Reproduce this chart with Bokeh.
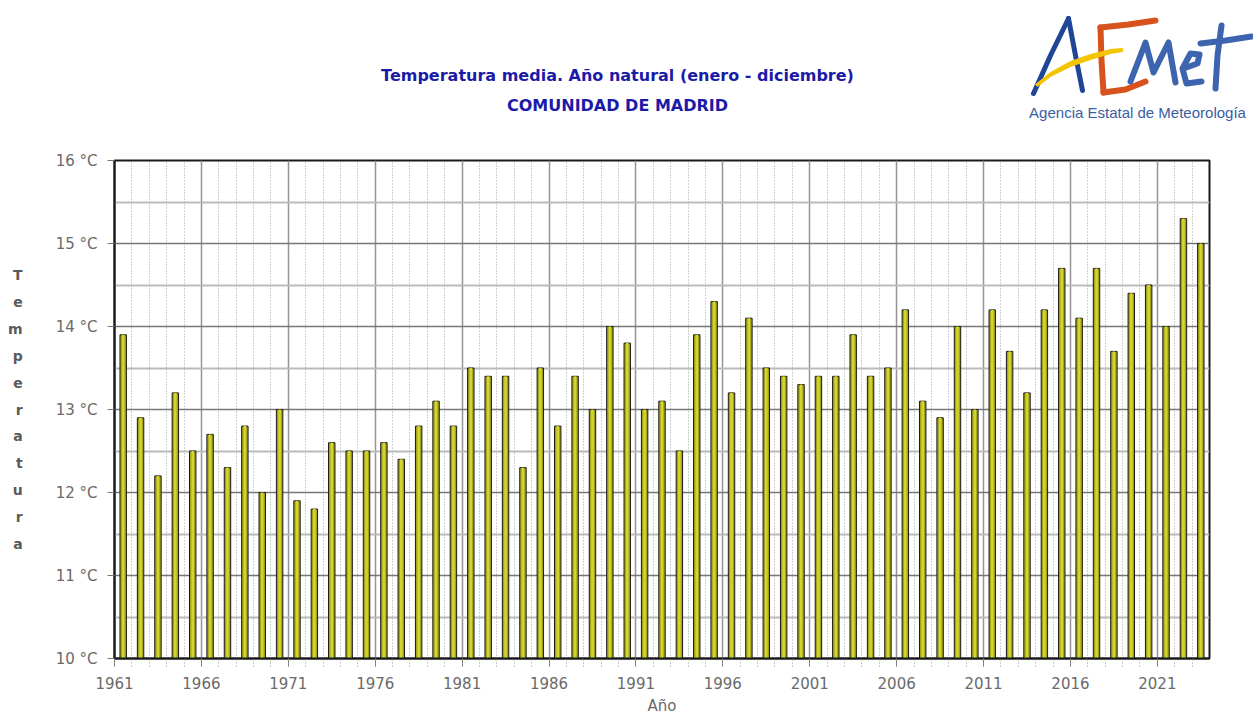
from bokeh.plotting import figure
from bokeh.layouts import column
from bokeh.models import Range1d, FixedTicker, PrintfTickFormatter, ColumnDataSource
from bokeh.core.properties import value
from bokeh.embed import file_html
from bokeh.resources import INLINE

# ---------------- data ----------------
years = list(range(1961, 2024))
temps = [13.9, 12.9, 12.2, 13.2, 12.5, 12.7, 12.3, 12.8, 12.0, 13.0,
         11.9, 11.8, 12.6, 12.5, 12.5, 12.6, 12.4, 12.8, 13.1, 12.8,
         13.5, 13.4, 13.4, 12.3, 13.5, 12.8, 13.4, 13.0, 14.0, 13.8,
         13.0, 13.1, 12.5, 13.9, 14.3, 13.2, 14.1, 13.5, 13.4, 13.3,
         13.4, 13.4, 13.9, 13.4, 13.5, 14.2, 13.1, 12.9, 14.0, 13.0,
         14.2, 13.7, 13.2, 14.2, 14.7, 14.1, 14.7, 13.7, 14.4, 14.5,
         14.0, 15.3, 15.0]
year_ticks = [1961, 1966, 1971, 1976, 1981, 1986, 1991, 1996, 2001, 2006, 2011, 2016, 2021]
temp_ticks = [10, 11, 12, 13, 14, 15, 16]
temp_minor = [10.5, 11.5, 12.5, 13.5, 14.5, 15.5]
title_lines = ["Temperatura media. Año natural (enero - diciembre)", "COMUNIDAD DE MADRID"]
y_label = "Temperatura"
x_label = "Año"
agency = "Agencia Estatal de Meteorología"

# ---------------- layout (pixels) ----------------
W = 1253
HEAD_H = 140
CHART_H = 577
X0, X1, Y0, Y1 = 1961, 2024, 10, 16

# ---------------- header: titles + logo ----------------
head = figure(width=W, height=HEAD_H, output_backend="svg", toolbar_location=None,
              title=None, x_range=Range1d(0, W), y_range=Range1d(HEAD_H, 0),
              x_axis_type=None, y_axis_type=None, min_border=0,
              min_border_left=0, min_border_right=0, min_border_top=0, min_border_bottom=0,
              background_fill_color="white", border_fill_color="white")
head.frame_align = False
head.outline_line_color = None
head.grid.visible = False

head.text(x=[617, 617], y=[75, 105], text=title_lines, text_align="center",
          text_baseline="middle", text_font=value("DejaVu Sans"),
          text_font_style="bold", text_font_size="16px", text_color="#1b1ba8")

# logo strokes: "A"
head.line(x=[1033, 1050, 1068], y=[93, 55, 18], line_color="#1f4597",
          line_width=5, line_cap="round", line_join="round")
head.line(x=[1068, 1075, 1082], y=[18, 55, 90], line_color="#1f4597",
          line_width=5, line_cap="round", line_join="round")
# "E"
head.line(x=[1100, 1101, 1103], y=[27, 60, 92], line_color="#d8521e",
          line_width=6, line_cap="round", line_join="round")
head.line(x=[1100, 1128, 1155], y=[27, 24, 20], line_color="#d8521e",
          line_width=6, line_cap="round")
head.line(x=[1103, 1125, 1145], y=[92, 89, 81], line_color="#d8521e",
          line_width=6, line_cap="round")
# yellow swoosh
sw_x = [1035, 1050, 1070, 1090, 1110, 1122, 1122, 1110, 1090, 1070, 1050, 1037]
sw_y = [84, 72, 61, 54, 49, 48, 51, 53, 59, 66, 76, 86]
head.patch(x=sw_x, y=sw_y, fill_color="#f4c400", line_color="#f4c400", line_width=1)
# "Met"
head.line(x=[1130, 1145, 1153, 1168, 1175], y=[81, 42, 72, 42, 82], line_color="#3d64ae",
          line_width=6, line_cap="round", line_join="round")
head.line(x=[1183, 1197, 1199, 1190, 1182, 1186, 1201], y=[68, 63, 54, 53, 68, 83, 81],
          line_color="#3d64ae", line_width=6, line_cap="round", line_join="round")
head.line(x=[1221, 1217, 1215], y=[25, 55, 88], line_color="#3d64ae",
          line_width=6, line_cap="round")
head.line(x=[1200, 1225, 1251], y=[43, 40, 36], line_color="#3d64ae",
          line_width=6, line_cap="round")
head.text(x=[1137], y=[112], text=[agency], text_align="center", text_baseline="middle",
          text_font=value("Liberation Sans"), text_font_size="15px", text_color="#3a5da5")

# ---------------- chart ----------------
p = figure(width=W, height=CHART_H, output_backend="svg", toolbar_location=None,
           title=None, x_range=Range1d(X0, X1), y_range=Range1d(Y0, Y1),
           min_border_left=114, min_border_right=44,
           min_border_top=20, min_border_bottom=59,
           background_fill_color="white", border_fill_color="white")
p.frame_align = False
p.outline_line_color = "#1a1a1a"
p.outline_line_width = 2

src = ColumnDataSource(dict(x=[y + 0.5 for y in years], top=temps))
p.vbar(x="x", top="top", bottom=Y0, width=0.37, source=src,
       fill_color="#a3a31a", line_color="#1a1a1a", line_width=1)
p.vbar(x="x", top="top", bottom=Y0, width=0.15, source=src,
       fill_color="#d4d42e", line_color=None)

# grids
p.xgrid.ticker = FixedTicker(ticks=year_ticks, minor_ticks=years)
p.xgrid.grid_line_color = "#959595"
p.xgrid.grid_line_width = 1.5
p.xgrid.minor_grid_line_color = "#a0a0a0"
p.xgrid.minor_grid_line_dash = "1 2"
p.xgrid.minor_grid_line_width = 1
p.ygrid.ticker = FixedTicker(ticks=temp_ticks, minor_ticks=temp_minor)
p.ygrid.grid_line_color = "#777777"
p.ygrid.grid_line_width = 1.5
p.ygrid.minor_grid_line_color = "#bbbbbb"
p.ygrid.minor_grid_line_width = 2

# axes
xa = p.xaxis[0]
xa.ticker = FixedTicker(ticks=year_ticks, minor_ticks=years)
xa.formatter = PrintfTickFormatter(format="%d")
xa.axis_line_color = "#1a1a1a"
xa.axis_line_width = 2
xa.major_tick_out = 8
xa.major_tick_in = 0
xa.major_tick_line_color = "#777777"
xa.minor_tick_out = 8
xa.minor_tick_in = 0
xa.minor_tick_line_color = "#999999"
xa.minor_tick_line_dash = "1 2"
xa.major_label_standoff = 10
xa.major_label_text_font = "DejaVu Sans"
xa.major_label_text_font_size = "15px"
xa.major_label_text_color = "#6a6a6a"
xa.axis_label = x_label
xa.axis_label_standoff = 5
xa.axis_label_text_font = "DejaVu Sans"
xa.axis_label_text_font_style = "normal"
xa.axis_label_text_font_size = "15px"
xa.axis_label_text_color = "#6a6a6a"

ya = p.yaxis[0]
ya.ticker = FixedTicker(ticks=temp_ticks, minor_ticks=[])
ya.formatter = PrintfTickFormatter(format="%d °C")
ya.axis_line_color = "#1a1a1a"
ya.axis_line_width = 2
ya.major_tick_out = 7
ya.major_tick_in = 0
ya.major_tick_line_color = "#777777"
ya.minor_tick_out = 0
ya.minor_tick_in = 0
ya.major_label_standoff = 10
ya.major_label_text_font = "DejaVu Sans"
ya.major_label_text_font_size = "15px"
ya.major_label_text_color = "#6a6a6a"
ya.axis_label = "\n".join(y_label)
ya.axis_label_orientation = "horizontal"
ya.axis_label_standoff = 30
ya.axis_label_text_font = "DejaVu Sans"
ya.axis_label_text_font_style = "bold"
ya.axis_label_text_font_size = "14px"
ya.axis_label_text_line_height = 1.68
ya.axis_label_text_color = "#5a5a5a"

layout = column(head, p, spacing=0)
open("out.html", "w").write(file_html(layout, INLINE))
